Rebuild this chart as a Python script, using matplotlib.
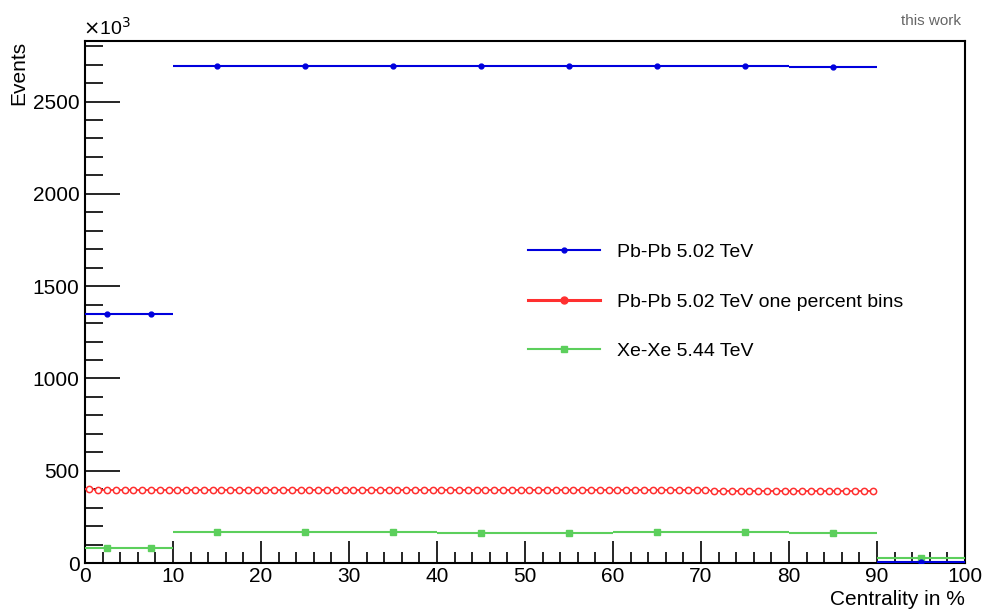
import numpy as np
import matplotlib
matplotlib.use('Agg')
from matplotlib import pyplot as plt
from matplotlib.ticker import MultipleLocator
from matplotlib.lines import Line2D

plt.rcParams['font.family'] = ['Liberation Sans', 'DejaVu Sans']

# Pb-Pb 5.02 TeV (coarse bins), in units of 10^3 events
pb_edges = [0, 5, 10, 20, 30, 40, 50, 60, 70, 80, 90, 100]
pb_vals = [1350, 1347, 2692, 2691, 2692, 2691, 2690, 2690, 2690, 2686, 8]

# Xe-Xe 5.44 TeV
xe_edges = [0, 5, 10, 20, 30, 40, 50, 60, 70, 80, 90, 100]
xe_vals = [82, 82, 167, 170, 166, 165, 165, 166, 166, 165, 25]

# Pb-Pb 5.02 TeV one percent bins (0-90 %)
pb1_edges = list(range(0, 91))
pb1_vals = [401, 393, 393, 393, 393, 393, 393, 393, 393, 393,
            393, 393, 393, 393, 393, 393, 393, 393, 393, 393,
            393, 393, 393, 393, 393, 393, 393, 393, 393, 393,
            393, 393, 393, 393, 393, 393, 393, 393, 393, 393,
            393, 393, 393, 393, 393, 393, 393, 393, 393, 393,
            393, 393, 393, 393, 393, 393, 393, 393, 393, 393,
            393, 393, 393, 393, 393, 393, 393, 393, 393, 393,
            393, 392, 392, 392, 392, 392, 392, 392, 392, 392,
            392, 392, 392, 391, 391, 391, 391, 391, 391, 391]

c_pb = '#0000dd'
c_pb1 = '#ff3030'
c_xe = '#5ccf5c'


def centers(edges):
    e = np.asarray(edges, dtype=float)
    return (e[:-1] + e[1:]) / 2, (e[1:] - e[:-1]) / 2


fig = plt.figure(figsize=(9.86, 6.10), dpi=100)
ax = fig.add_axes([0.0862, 0.077, 0.8925, 0.8558])

x, hw = centers(pb1_edges)
ax.errorbar(x, pb1_vals, xerr=hw, fmt='o', color=c_pb1, ms=4.5,
            mfc='white', mew=1.1, elinewidth=1.3, zorder=3)

x, hw = centers(xe_edges)
ax.errorbar(x, xe_vals, xerr=hw, fmt='s', color=c_xe, ms=4,
            elinewidth=1.5, zorder=3)

x, hw = centers(pb_edges)
ax.errorbar(x, pb_vals, xerr=hw, fmt='o', color=c_pb, ms=3.5,
            elinewidth=1.5, zorder=4)

ax.set_xlim(0, 100)
ax.set_ylim(0, 2828)
ax.xaxis.set_major_locator(MultipleLocator(10))
ax.xaxis.set_minor_locator(MultipleLocator(2))
ax.yaxis.set_major_locator(MultipleLocator(500))
ax.yaxis.set_minor_locator(MultipleLocator(100))
ax.tick_params(axis='both', which='both', direction='in', labelsize=15,
               top=False, right=False, width=1.2)
ax.tick_params(axis='y', which='major', length=25, pad=4)
ax.tick_params(axis='y', which='minor', length=13)
ax.tick_params(axis='x', which='major', length=16, pad=3)
ax.tick_params(axis='x', which='minor', length=8)
for s in ax.spines.values():
    s.set_linewidth(1.5)

ax.set_xlabel('Centrality in %', fontsize=15, loc='right', labelpad=0)
ax.set_ylabel('Events', fontsize=15, loc='top', labelpad=0)
ax.yaxis.set_label_coords(-0.064, 1.0)
ax.xaxis.set_label_coords(1.0, -0.052)

fig.text(0.084, 0.937, r'$\times$10$^3$', fontsize=14, ha='left', va='bottom')
fig.text(0.975, 0.965, 'this work', fontsize=11, color='#666666',
         ha='right', va='center')

handles = [
    Line2D([0], [0], color=c_pb, lw=1.5, marker='o', ms=3.5),
    Line2D([0], [0], color=c_pb1, lw=2.2, marker='o', ms=5, mfc=c_pb1),
    Line2D([0], [0], color=c_xe, lw=1.5, marker='s', ms=4),
]
labels = ['Pb-Pb 5.02 TeV', 'Pb-Pb 5.02 TeV one percent bins',
          'Xe-Xe 5.44 TeV']
ax.legend(handles, labels, loc='upper left', bbox_to_anchor=(0.484, 0.646),
          frameon=False, fontsize=14, handlelength=3.7, labelspacing=1.65,
          handletextpad=0.85)

fig.savefig('out.png', dpi=100)
